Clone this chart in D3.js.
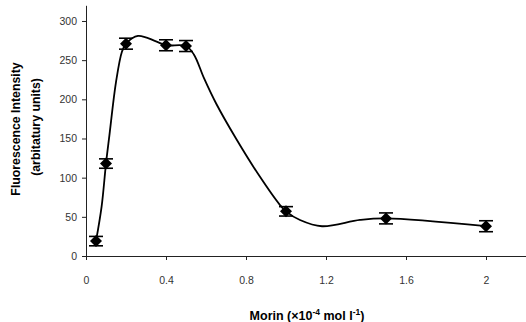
<!DOCTYPE html>
<html><head><meta charset="utf-8">
<script src="https://cdn.jsdelivr.net/npm/d3@7"></script>
<style>body{margin:0;background:#fff}svg{display:block}</style>
</head><body>
<svg id="c" width="526" height="322"></svg>
<script>
// Measured points with error bars
const xs   = [0.05, 0.1, 0.2, 0.4, 0.5, 1.0, 1.5, 2.0];
const ys   = [19, 118, 271, 269, 268, 57, 48, 38];
const errs = [6, 6, 7, 7, 7, 6, 7, 7];
// Smoothed fitted curve
const curveX = [0.05, 0.078, 0.1, 0.117, 0.15, 0.18, 0.2, 0.26, 0.35, 0.4, 0.5, 0.54, 0.59, 0.65, 0.75, 0.87, 0.97, 1.0, 1.07, 1.18, 1.37, 1.5, 2.0];
const curveY = [19, 63, 118, 154, 222, 261, 271, 281, 274, 269, 268, 257, 227, 195, 150, 101, 65, 57, 46, 38, 46, 48, 38];
const xTicks = [0, 0.4, 0.8, 1.2, 1.6, 2];
const yTicks = [0, 50, 100, 150, 200, 250, 300];

const svg = d3.select("#c");
const x = d3.scaleLinear().domain([0, 2.2]).range([86, 526]);
const y = d3.scaleLinear().domain([0, 320]).range([256, 5.3]);

// axes
const ax = d3.axisBottom(x).tickValues(xTicks).tickSize(4).tickSizeOuter(0).tickPadding(17)
  .tickFormat(d => String(d));
const gx = svg.append("g").attr("transform", "translate(0,256)").call(ax);
const ay = d3.axisLeft(y).tickValues(yTicks).tickSize(4).tickSizeOuter(0).tickPadding(5);
const gy = svg.append("g").attr("transform", "translate(86,0)").call(ay);
[gx, gy].forEach(g => {
  g.select(".domain").attr("stroke", "#222").attr("stroke-width", 1);
  g.selectAll(".tick line").attr("stroke", "#222");
  g.selectAll(".tick text").attr("font-family", "Liberation Sans, Arial, sans-serif")
   .attr("font-size", 10.5).attr("fill", "#333");
});
gx.select(".domain").attr("d", "M83,0.5H526");

// curve
const line = d3.line().x((d, i) => x(curveX[i])).y(d => y(d)).curve(d3.curveCatmullRom.alpha(0.5));
svg.append("path").datum(curveY).attr("d", line).attr("fill", "none")
  .attr("stroke", "#000").attr("stroke-width", 1.8);

// error bars
const eb = svg.append("g").attr("stroke", "#000").attr("stroke-width", 1.6);
xs.forEach((xv, i) => {
  const cx = x(xv), t = y(ys[i] + errs[i]), b = y(ys[i] - errs[i]);
  eb.append("line").attr("x1", cx).attr("x2", cx).attr("y1", t).attr("y2", b);
  eb.append("line").attr("x1", cx - 7).attr("x2", cx + 7).attr("y1", t).attr("y2", t);
  eb.append("line").attr("x1", cx - 7).attr("x2", cx + 7).attr("y1", b).attr("y2", b);
});
// markers
svg.append("g").selectAll("path").data(xs).join("path")
  .attr("transform", (d, i) => `translate(${x(d)},${y(ys[i])})`)
  .attr("d", "M0,-6L6,0L0,6L-6,0Z").attr("fill", "#000");

// titles
const ff = "Liberation Sans, Arial, sans-serif";
const xt = svg.append("text").attr("x", 307).attr("y", 320).attr("text-anchor", "middle")
  .attr("font-family", ff).attr("font-weight", "bold").attr("font-size", 12.5).attr("fill", "#000");
xt.append("tspan").text("Morin (×10");
xt.append("tspan").attr("font-size", 8.5).attr("dy", -5).text("-4");
xt.append("tspan").attr("dy", 5).text(" mol l");
xt.append("tspan").attr("font-size", 8.5).attr("dy", -5).text("-1");
xt.append("tspan").attr("dy", 5).text(")");

const yt = svg.append("g").attr("font-family", ff).attr("font-weight", "bold")
  .attr("font-size", 12.3).attr("fill", "#000").attr("text-anchor", "middle");
yt.append("text").attr("transform", "translate(20,129) rotate(-90)").text("Fluorescence Intensity");
yt.append("text").attr("transform", "translate(40,127) rotate(-90)").text("(arbitatury units)");
</script>
</body></html>
